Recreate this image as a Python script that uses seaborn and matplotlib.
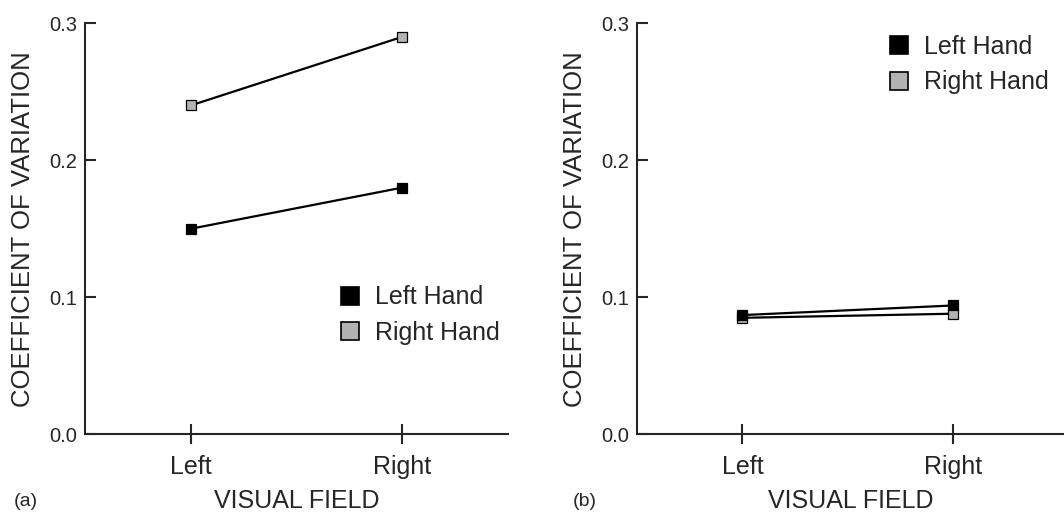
import numpy as np
import pandas as pd
import matplotlib
matplotlib.use("Agg")
import matplotlib.pyplot as plt
from matplotlib.lines import Line2D
import seaborn as sns

# data
fields = ["Left", "Right"]
a_left_hand = [0.150, 0.180]
a_right_hand = [0.240, 0.290]
b_left_hand = [0.087, 0.094]
b_right_hand = [0.085, 0.088]

hands = ["Left Hand", "Right Hand"]
face_colors = {"Left Hand": "black", "Right Hand": "#b3b3b3"}

sns.set_style("ticks")
plt.rcParams["font.family"] = ["Liberation Sans", "DejaVu Sans"]


def make_frame(left_vals, right_vals):
    return pd.DataFrame({
        "field": fields * 2,
        "cv": list(left_vals) + list(right_vals),
        "hand": [hands[0]] * 2 + [hands[1]] * 2,
    })


def draw_panel(ax, df, xmax, legend_anchor):
    # right hand first so the black squares sit on top
    for hand in ["Right Hand", "Left Hand"]:
        sub = df[df["hand"] == hand]
        sns.lineplot(
            data=sub, x="field", y="cv", ax=ax, color="black", linewidth=1.6,
            marker="s", markersize=7, markerfacecolor=face_colors[hand],
            markeredgecolor="black", markeredgewidth=0.9, sort=False,
        )
    ax.set_xlim(-0.5, xmax)
    ax.set_ylim(0, 0.3)
    ax.set_yticks([0.0, 0.1, 0.2, 0.3])
    ax.set_yticklabels(["0.0", "0.1", "0.2", "0.3"], fontsize=14.5)
    ax.set_xticks([0, 1])
    ax.set_xticklabels(fields, fontsize=18)
    ax.tick_params(axis="y", direction="in", length=8, width=1.5, pad=6)
    ax.tick_params(axis="x", direction="inout", length=14, width=1.5, pad=8)
    ax.set_ylabel("COEFFICIENT OF VARIATION", fontsize=18.5, labelpad=10)
    ax.set_xlabel("VISUAL FIELD", fontsize=18, labelpad=7)
    for side in ["top", "right"]:
        ax.spines[side].set_visible(False)
    for side in ["left", "bottom"]:
        ax.spines[side].set_linewidth(1.5)

    handles = [
        Line2D([], [], linestyle="none", marker="s", markersize=13,
               markerfacecolor=face_colors[h], markeredgecolor="black",
               markeredgewidth=1.2)
        for h in hands
    ]
    ax.legend(handles, hands, loc="center left", bbox_to_anchor=legend_anchor,
              borderaxespad=0, borderpad=0, frameon=False, fontsize=18,
              handletextpad=0.4, labelspacing=0.45, handlelength=1.2)


fig = plt.figure(figsize=(10.64, 5.17), dpi=100)
ax_a = fig.add_axes([0.080, 0.160, 0.397, 0.795])
ax_b = fig.add_axes([0.599, 0.160, 0.401, 0.795])

draw_panel(ax_a, make_frame(a_left_hand, a_right_hand), 1.5, (0.592, 0.29))
draw_panel(ax_b, make_frame(b_left_hand, b_right_hand), 1.53, (0.578, 0.899))

fig.text(0.013, 0.022, "(a)", fontsize=14)
fig.text(0.538, 0.022, "(b)", fontsize=14)

fig.savefig("out.png", dpi=100)
